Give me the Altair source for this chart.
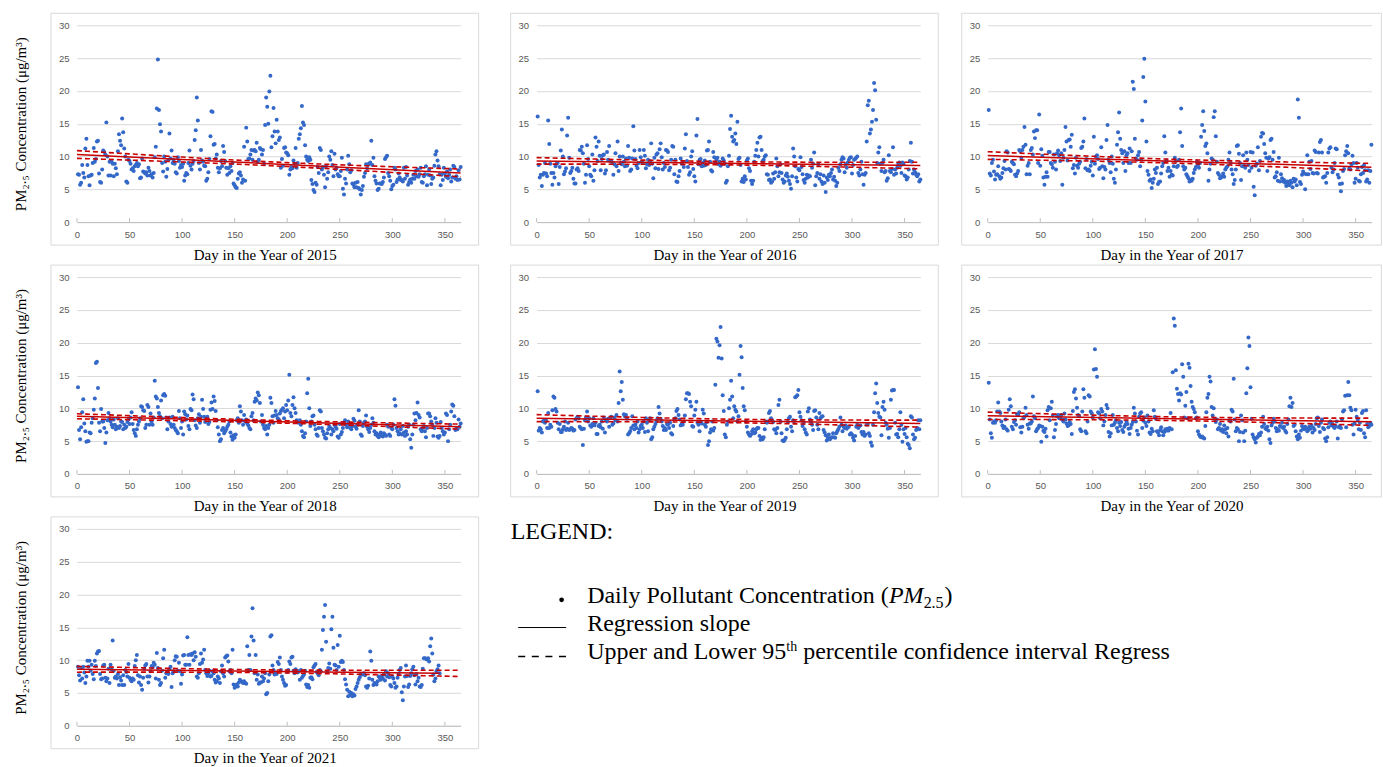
import altair as alt
import numpy as np
import pandas as pd

# ---------------- data ----------------
YEARS = [2015, 2016, 2017, 2018, 2019, 2020, 2021]

pm_2015 = [
7.3, 7.2, 5.7, 6.0, 8.7, 7.5, 6.8, 11.2, 12.7, 8.7,
7.0, 5.6, 7.1, 7.2, 9.0, 11.3, 9.2, 9.6, 12.3, 12.4,
7.4, 6.1, 6.0, 8.0, 10.9, 10.7, 10.3, 15.2, 10.0, 7.1,
9.2, 7.1, 9.2, 8.9, 7.0, 8.9, 8.2, 7.3, 10.8, 13.4,
12.4, 11.7, 15.8, 13.7, 11.2, 10.0, 6.2, 6.0, 9.5, 9.3,
8.9, 8.0, 8.2, 7.8, 8.5, 8.7, 9.0, 8.5, 8.8, 6.7,
6.8, 9.7, 7.7, 7.6, 7.4, 7.6, 7.1, 8.3, 7.8, 7.1,
7.3, 6.8, 7.5, 9.9, 11.5, 17.3, 24.8, 17.1, 14.9, 13.8,
9.0, 7.7, 10.0, 9.2, 6.9, 8.1, 9.5, 13.5, 9.7, 10.9,
9.0, 9.5, 8.9, 7.6, 7.4, 9.9, 9.3, 8.3, 8.7, 8.4,
8.9, 6.3, 7.1, 7.5, 7.3, 9.0, 10.9, 8.6, 8.0, 8.9,
9.3, 12.5, 14.0, 19.0, 15.5, 9.0, 8.0, 11.0, 9.4, 9.2,
8.6, 8.5, 6.3, 6.6, 7.6, 9.6, 13.1, 16.9, 16.8, 11.8,
11.9, 9.7, 10.3, 8.3, 7.6, 8.2, 9.3, 8.5, 11.6, 10.7,
9.3, 8.3, 7.2, 8.2, 7.5, 8.5, 7.8, 9.0, 5.9, 5.6,
5.3, 5.2, 6.6, 7.4, 7.6, 7.1, 6.0, 6.5, 11.5, 6.3,
14.4, 12.3, 9.6, 9.7, 10.3, 11.0, 9.5, 10.9, 11.0, 10.8,
12.1, 9.2, 9.5, 11.3, 11.1, 10.3, 11.0, 8.9, 14.8, 19.0,
17.6, 15.0, 19.9, 22.3, 11.4, 13.1, 17.4, 13.8, 12.0, 15.6,
13.8, 12.5, 12.9, 8.3, 9.6, 8.6, 11.3, 11.4, 10.6, 10.5,
10.2, 7.2, 8.0, 8.4, 8.2, 9.4, 8.9, 11.3, 8.3, 9.0,
12.7, 13.4, 14.3, 17.7, 15.2, 14.8, 11.7, 10.0, 9.5, 9.3,
9.9, 9.5, 6.4, 5.8, 4.9, 4.6, 6.0, 5.7, 8.4, 7.5,
11.3, 11.0, 8.0, 8.4, 7.2, 5.3, 8.5, 6.6, 7.6, 10.0,
9.5, 10.8, 8.7, 7.0, 10.4, 8.0, 8.3, 7.3, 7.0, 7.0,
7.8, 9.8, 5.1, 4.2, 6.6, 5.9, 8.0, 10.1, 8.8, 7.6,
7.9, 5.9, 5.7, 5.3, 6.0, 5.3, 6.1, 5.2, 5.0, 4.2,
4.9, 5.5, 6.9, 7.5, 8.8, 8.2, 8.8, 8.9, 9.1, 12.4,
8.7, 9.8, 7.0, 6.3, 5.9, 4.9, 5.1, 5.9, 5.9, 5.8,
6.1, 6.8, 9.6, 9.9, 10.1, 7.5, 7.0, 6.3, 5.0, 5.5,
5.7, 8.3, 8.0, 6.1, 6.5, 7.4, 6.8, 6.4, 6.4, 6.2,
8.3, 6.6, 8.4, 7.1, 5.7, 6.1, 6.5, 6.0, 6.6, 7.2,
6.6, 7.8, 7.0, 8.0, 6.9, 7.3, 8.3, 6.1, 6.0, 7.0,
7.3, 8.5, 5.6, 7.2, 8.0, 7.1, 5.8, 6.6, 6.8, 8.6,
10.3, 10.8, 9.4, 8.5, 7.3, 5.6, 7.2, 6.4, 8.3, 7.4,
6.9, 7.7, 6.7, 7.2, 8.0, 6.2, 6.8, 8.6, 8.4, 6.6,
7.0, 6.4, 7.9, 6.5, 8.4]

pm_2016 = [
16.1, 8.7, 6.8, 7.2, 5.5, 7.2, 7.5, 9.0, 7.4, 7.0,
15.5, 11.9, 8.9, 7.5, 5.7, 7.5, 6.8, 8.5, 8.9, 9.0,
5.8, 8.4, 10.9, 14.1, 10.0, 7.3, 7.7, 8.2, 13.2, 15.9,
9.8, 7.5, 7.8, 8.3, 6.6, 5.9, 5.9, 8.0, 8.2, 7.8,
11.0, 10.9, 11.5, 10.5, 8.9, 6.0, 7.2, 11.7, 9.6, 8.5,
7.2, 7.0, 10.3, 6.3, 7.9, 12.9, 11.5, 9.3, 12.3, 10.1,
7.9, 9.6, 10.2, 10.3, 7.4, 7.9, 10.7, 9.5, 11.6, 9.3,
9.3, 9.0, 7.2, 8.8, 10.5, 8.5, 12.3, 7.8, 10.0, 9.0,
8.8, 10.0, 9.2, 8.5, 9.7, 8.6, 11.6, 9.8, 7.8, 8.0,
9.7, 14.6, 10.9, 9.6, 8.6, 8.2, 9.0, 11.0, 9.9, 9.2,
9.0, 11.0, 10.1, 8.2, 8.8, 9.5, 8.7, 9.3, 12.0, 8.9,
6.7, 9.8, 8.2, 10.3, 10.5, 8.1, 11.1, 12.0, 9.9, 8.0,
9.0, 8.4, 11.0, 10.9, 10.7, 7.9, 8.3, 9.5, 11.6, 11.5,
7.3, 9.5, 6.2, 6.1, 7.0, 7.8, 9.7, 8.9, 9.2, 8.4,
11.2, 13.4, 9.3, 8.4, 7.2, 7.6, 10.0, 10.8, 8.1, 7.0,
6.2, 13.2, 15.7, 8.8, 9.5, 9.6, 8.5, 9.0, 8.6, 9.4,
8.7, 10.9, 11.0, 12.3, 9.2, 7.9, 7.7, 10.7, 9.9, 9.1,
9.5, 9.8, 8.8, 9.2, 8.6, 8.8, 9.7, 9.4, 8.9, 6.0,
6.3, 8.5, 10.1, 14.2, 16.2, 13.0, 12.3, 12.5, 13.5, 11.9,
15.3, 9.6, 9.8, 8.7, 6.2, 6.6, 6.1, 7.0, 6.5, 9.4,
9.7, 8.2, 7.8, 6.3, 5.8, 6.3, 9.2, 10.1, 11.0, 12.1,
10.0, 12.9, 13.0, 11.0, 9.3, 9.5, 10.0, 10.2, 7.3, 7.2,
6.4, 6.5, 6.0, 6.2, 7.4, 6.6, 7.6, 9.7, 8.5, 7.0,
7.6, 8.8, 7.5, 6.5, 6.0, 6.2, 7.1, 7.4, 6.9, 6.3,
5.8, 5.1, 7.0, 11.2, 10.0, 8.5, 6.8, 6.2, 8.1, 7.9,
9.9, 8.4, 7.3, 6.4, 6.0, 6.6, 7.2, 6.8, 7.1, 7.0,
9.5, 8.3, 8.9, 10.6, 5.6, 7.0, 7.5, 8.8, 6.6, 7.3,
6.2, 5.8, 7.1, 6.0, 4.6, 6.8, 6.4, 7.2, 7.0, 7.5,
8.0, 6.5, 6.9, 6.3, 5.5, 6.0, 8.3, 7.8, 8.8, 9.5,
9.9, 9.7, 7.6, 8.8, 8.3, 9.1, 9.5, 9.8, 9.9, 7.4,
8.7, 9.5, 9.6, 9.8, 10.0, 7.5, 7.1, 8.0, 9.2, 7.3,
5.7, 7.2, 7.5, 12.3, 17.8, 18.5, 13.5, 14.1, 15.3, 17.1,
21.2, 20.1, 15.6, 9.0, 10.6, 11.4, 8.9, 7.8, 9.0, 9.5,
7.6, 7.8, 6.3, 6.7, 10.2, 7.8, 7.6, 8.1, 11.4, 7.2,
8.0, 7.4, 8.3, 8.9, 9.1, 8.6, 7.5, 9.1, 8.8, 7.1,
7.0, 6.5, 6.8, 8.0, 9.3, 12.1, 9.2, 7.4, 8.0, 7.6,
7.2, 7.0, 7.3, 6.2, 6.5]

pm_2017 = [
17.1, 7.4, 7.1, 9.0, 9.5, 7.7, 6.5, 7.2, 7.3, 8.5,
7.0, 6.6, 6.8, 7.5, 8.2, 9.3, 8.0, 10.8, 10.6, 8.1,
8.0, 7.8, 9.2, 9.0, 8.8, 7.2, 7.0, 7.4, 7.8, 11.0,
10.8, 9.8, 11.0, 11.5, 14.5, 11.8, 7.3, 8.6, 9.0, 7.3,
11.0, 11.3, 10.3, 13.8, 12.8, 14.0, 14.0, 9.0, 16.4, 8.6,
11.1, 10.1, 6.8, 5.7, 6.9, 7.6, 6.9, 10.7, 10.7, 9.0,
8.8, 8.3, 10.3, 9.2, 8.0, 10.5, 10.9, 10.2, 9.3, 10.5,
5.7, 9.8, 11.0, 14.5, 12.3, 9.4, 12.5, 12.6, 11.5, 13.3,
8.2, 8.7, 7.4, 9.8, 8.6, 8.3, 8.9, 9.2, 11.3, 11.5,
12.3, 15.8, 8.2, 9.6, 7.9, 8.0, 7.8, 8.6, 9.2, 7.1,
13.0, 8.9, 10.0, 10.2, 9.6, 8.1, 8.3, 11.4, 8.5, 6.7,
8.4, 8.0, 12.5, 14.8, 9.5, 9.0, 7.6, 10.0, 8.9, 6.6,
6.0, 8.0, 11.8, 13.7, 16.7, 12.7, 11.0, 10.5, 9.0, 10.8,
7.8, 10.2, 10.5, 9.0, 11.2, 9.0, 10.8, 21.4, 20.3, 12.7,
9.7, 9.5, 10.2, 10.7, 8.5, 9.5, 15.5, 22.1, 24.9, 18.4,
12.3, 7.8, 7.2, 6.3, 6.5, 5.2, 6.0, 6.6, 8.0, 7.5,
8.3, 5.8, 6.1, 6.2, 7.4, 8.5, 9.0, 13.1, 10.6, 9.4,
7.8, 8.3, 6.9, 7.8, 7.2, 7.1, 8.5, 9.8, 9.3, 8.4,
8.6, 9.5, 13.7, 17.3, 11.6, 8.5, 8.0, 8.3, 7.3, 7.0,
6.7, 6.2, 6.4, 6.3, 6.6, 7.5, 8.0, 8.4, 9.2, 8.7,
8.3, 9.0, 13.0, 14.8, 16.9, 13.9, 11.6, 12.0, 10.5, 6.3,
8.0, 8.9, 9.7, 9.5, 16.0, 16.9, 13.1, 9.2, 7.5, 7.2,
6.7, 6.8, 7.0, 7.4, 6.9, 8.0, 8.3, 8.5, 9.5, 10.6,
9.0, 8.0, 7.3, 5.8, 6.4, 8.0, 11.6, 11.7, 10.4, 9.0,
6.4, 8.5, 10.2, 8.6, 8.3, 10.6, 9.5, 8.7, 7.8, 10.7,
8.3, 10.6, 5.4, 4.1, 8.6, 8.9, 11.4, 7.9, 9.3, 13.0,
13.6, 13.5, 11.9, 10.5, 9.8, 7.8, 9.7, 9.9, 12.5, 12.7,
9.5, 10.7, 6.8, 7.0, 7.6, 6.3, 9.8, 6.2, 7.3, 6.7,
6.2, 6.4, 6.0, 5.5, 6.2, 5.9, 5.6, 6.3, 6.0, 5.3,
6.6, 6.2, 6.5, 5.6, 18.7, 15.9, 6.1, 5.8, 7.2, 7.7,
7.4, 5.0, 7.3, 10.2, 7.3, 9.2, 8.1, 9.3, 7.5, 7.4,
10.9, 10.7, 7.5, 7.4, 10.6, 12.2, 12.5, 10.6, 6.8, 6.9,
7.0, 6.0, 7.5, 10.6, 11.2, 11.4, 8.3, 7.6, 8.0, 9.0,
11.2, 11.1, 7.2, 6.8, 5.8, 4.7, 5.9, 7.8, 8.1, 10.2,
10.8, 11.6, 10.5, 8.2, 8.0, 8.8, 10.1, 9.0, 6.0, 6.6,
9.0, 8.3, 6.3, 6.2, 7.3, 8.4, 7.5, 8.7, 7.9, 6.2,
6.5, 7.9, 6.0, 7.8, 11.8]

pm_2018 = [
13.2, 6.7, 5.3, 7.1, 9.4, 11.4, 7.7, 6.5, 4.9, 5.0,
5.0, 6.3, 6.2, 7.8, 8.5, 9.8, 11.5, 16.9, 17.1, 13.1,
7.8, 6.5, 9.9, 8.0, 8.0, 7.0, 4.7, 6.3, 8.2, 9.3,
8.5, 8.0, 7.5, 7.1, 8.3, 7.5, 6.8, 7.2, 8.5, 7.0,
7.3, 8.0, 7.9, 6.8, 7.5, 7.0, 7.2, 7.9, 8.3, 7.6,
8.6, 9.4, 7.6, 6.7, 6.2, 5.8, 6.8, 7.5, 8.0, 8.5,
10.3, 10.2, 9.7, 9.6, 7.0, 7.5, 10.5, 10.2, 7.5, 9.2,
8.0, 7.5, 8.6, 14.2, 11.8, 11.5, 10.2, 9.3, 8.8, 11.2,
8.5, 12.0, 12.2, 11.9, 8.6, 6.8, 8.0, 8.6, 7.6, 7.2,
8.7, 7.5, 7.0, 6.7, 6.5, 6.2, 9.6, 8.5, 7.0, 8.0,
6.0, 9.5, 9.1, 8.3, 8.9, 7.3, 6.8, 9.9, 9.7, 12.1,
11.4, 8.2, 7.4, 7.0, 8.5, 9.1, 7.8, 8.7, 11.3, 9.9,
8.7, 7.9, 8.5, 8.7, 7.6, 7.9, 9.8, 10.9, 9.9, 11.8,
11.1, 9.6, 8.2, 7.1, 6.0, 5.0, 5.3, 6.7, 7.0, 6.2,
6.5, 6.8, 7.2, 7.5, 8.0, 6.3, 5.7, 5.2, 5.9, 5.5,
6.0, 8.2, 8.5, 7.8, 10.3, 9.5, 8.2, 7.5, 9.0, 8.0,
8.3, 7.7, 7.4, 7.0, 6.8, 8.8, 9.3, 8.2, 11.0, 11.5,
11.2, 12.4, 12.0, 10.8, 8.0, 9.0, 7.5, 7.0, 6.8, 7.3,
6.0, 7.0, 7.5, 11.6, 10.8, 8.8, 7.8, 8.9, 9.6, 9.0,
8.5, 8.3, 9.2, 9.6, 9.8, 10.0, 8.5, 9.5, 10.5, 9.7,
11.2, 15.1, 9.3, 8.8, 10.5, 11.7, 10.0, 9.3, 8.2, 8.0,
7.8, 8.2, 7.5, 6.5, 5.8, 5.6, 6.2, 8.0, 12.3, 14.5,
10.0, 7.3, 8.0, 8.8, 8.9, 7.5, 6.8, 6.0, 5.8, 7.0,
9.7, 9.5, 7.0, 6.5, 6.0, 5.5, 5.4, 6.2, 6.8, 7.3,
7.0, 6.0, 6.8, 6.5, 7.5, 7.2, 6.9, 5.7, 5.5, 7.6,
6.0, 6.4, 7.0, 7.8, 8.2, 7.5, 7.1, 8.0, 7.5, 7.0,
6.8, 7.3, 8.4, 8.1, 7.2, 6.9, 7.5, 9.7, 8.0, 6.0,
5.8, 7.3, 7.8, 8.0, 8.9, 7.2, 6.8, 6.4, 7.0, 7.5,
8.5, 7.8, 6.5, 6.0, 6.2, 5.8, 5.6, 6.0, 6.3, 5.8,
5.7, 6.2, 6.0, 5.8, 7.5, 7.2, 6.0, 5.8, 7.0, 6.8,
7.5, 11.4, 10.4, 7.0, 6.5, 6.0, 6.2, 6.8, 6.0, 7.3,
6.3, 5.8, 6.5, 6.0, 7.2, 7.5, 5.3, 4.0, 6.0, 7.5,
9.2, 8.2, 9.3, 10.9, 9.0, 8.6, 6.8, 6.5, 7.0, 7.3,
6.5, 5.6, 7.0, 9.2, 9.2, 8.8, 8.0, 7.5, 5.8, 7.0,
8.5, 7.8, 5.7, 5.5, 5.8, 7.9, 7.0, 6.5, 6.0, 6.3,
9.2, 9.0, 5.0, 6.8, 7.5, 9.5, 10.6, 10.4, 8.8, 6.7,
7.0, 6.8, 8.3, 7.2, 7.7]

pm_2019 = [
12.6, 6.6, 7.0, 6.8, 6.3, 8.0, 8.2, 7.8, 8.1, 7.0,
9.3, 7.0, 7.5, 7.2, 9.7, 11.8, 11.6, 9.9, 9.5, 7.8,
6.8, 7.6, 6.4, 6.4, 6.8, 7.2, 8.0, 6.7, 6.9, 7.8,
6.7, 6.8, 7.0, 6.9, 6.6, 6.7, 8.3, 8.5, 8.7, 8.5,
7.2, 7.0, 6.8, 4.4, 6.9, 8.2, 8.6, 9.5, 8.0, 8.5,
7.4, 7.2, 7.6, 8.5, 7.4, 7.8, 6.1, 6.1, 7.3, 7.5,
7.1, 8.0, 6.9, 8.6, 6.3, 8.2, 8.0, 8.4, 7.2, 8.5,
8.7, 7.5, 7.7, 8.6, 8.2, 9.0, 8.0, 10.8, 15.6, 12.6,
14.0, 11.3, 9.1, 8.8, 9.0, 8.4, 6.0, 6.2, 6.5, 7.0,
8.8, 7.4, 6.8, 7.5, 7.0, 8.0, 6.3, 6.8, 7.3, 7.5,
7.0, 8.0, 6.4, 8.5, 7.8, 6.5, 8.2, 8.5, 5.3, 5.6,
6.8, 7.2, 7.6, 8.0, 8.5, 10.2, 9.2, 8.4, 8.0, 7.3,
6.7, 7.0, 6.7, 7.6, 7.5, 7.0, 7.8, 6.2, 6.0, 7.3,
8.3, 8.5, 9.6, 9.9, 9.0, 8.3, 7.4, 7.6, 7.5, 8.0,
8.9, 11.4, 12.3, 12.3, 12.2, 11.0, 10.3, 7.3, 7.2, 8.9,
9.8, 11.0, 7.8, 7.5, 6.5, 8.0, 7.7, 9.8, 9.2, 7.5,
7.2, 7.9, 4.4, 5.0, 6.3, 6.8, 8.0, 6.6, 7.0, 13.6,
20.6, 20.2, 17.7, 19.6, 22.4, 17.6, 12.0, 9.6, 6.0, 5.6,
7.5, 8.0, 10.0, 11.3, 14.2, 11.8, 8.5, 10.3, 9.8, 9.5,
8.0, 8.8, 15.1, 19.5, 17.8, 13.1, 10.3, 9.7, 8.0, 7.2,
6.3, 6.0, 5.8, 6.0, 6.5, 6.8, 6.2, 6.3, 6.8, 7.0,
7.0, 5.8, 5.2, 5.5, 5.3, 5.6, 6.8, 8.0, 7.8, 8.0,
9.3, 9.6, 8.5, 8.2, 7.9, 6.8, 6.7, 6.2, 7.0, 10.5,
11.3, 8.0, 6.2, 5.1, 5.0, 5.2, 5.5, 6.8, 7.9, 8.5,
8.7, 7.2, 6.5, 8.2, 8.0, 11.7, 11.8, 12.0, 12.8, 9.4,
8.7, 8.2, 7.3, 7.8, 6.8, 6.3, 6.0, 9.5, 10.0, 8.3,
7.9, 7.5, 6.7, 9.6, 9.7, 8.6, 7.5, 6.8, 9.3, 8.5,
8.7, 8.8, 6.7, 6.3, 5.9, 5.1, 5.5, 6.0, 5.3, 5.5,
5.6, 6.2, 5.6, 5.5, 6.2, 6.5, 6.8, 7.2, 8.6, 7.5,
6.5, 7.2, 7.0, 7.4, 6.9, 7.1, 7.2, 6.0, 6.2, 6.0,
5.5, 5.1, 5.8, 7.2, 7.5, 7.0, 7.3, 7.4, 6.4, 6.0,
6.4, 5.8, 6.0, 7.5, 7.6, 6.2, 5.8, 4.8, 4.3, 7.5,
9.4, 12.3, 13.8, 10.8, 9.3, 8.7, 8.6, 5.9, 10.2, 11.0,
9.8, 7.8, 7.5, 6.9, 5.5, 7.0, 11.3, 12.7, 12.8, 12.8,
7.8, 6.0, 6.1, 5.6, 6.8, 9.4, 7.5, 4.9, 6.8, 6.1,
7.0, 5.6, 4.6, 4.4, 3.9, 8.8, 8.6, 6.0, 5.3, 5.5,
6.7, 7.0, 8.2, 6.8, 8.2]

pm_2020 = [
13.9, 8.3, 6.2, 5.5, 7.8, 8.0, 7.8, 8.2, 9.5, 10.9,
9.5, 9.3, 8.0, 7.4, 7.0, 7.2, 8.3, 6.8, 6.6, 9.8,
11.4, 10.3, 7.2, 6.8, 7.9, 8.2, 7.5, 9.1, 9.0, 9.4,
7.1, 6.3, 7.2, 8.5, 8.7, 10.1, 9.0, 7.5, 6.9, 7.7,
7.7, 8.0, 11.8, 8.8, 8.5, 6.5, 6.8, 7.0, 7.4, 7.3,
4.9, 7.2, 6.6, 6.4, 6.9, 5.7, 9.7, 10.2, 8.2, 10.0,
11.0, 8.9, 5.6, 6.7, 7.6, 8.8, 9.0, 8.5, 8.8, 9.0,
8.3, 8.0, 9.2, 8.3, 7.7, 7.3, 7.4, 7.9, 7.6, 6.1,
9.6, 12.5, 12.9, 11.5, 10.1, 9.0, 8.8, 6.8, 6.5, 9.5,
12.9, 11.6, 6.5, 6.2, 8.0, 12.0, 11.8, 9.5, 9.2, 8.6,
15.9, 19.0, 16.0, 14.8, 9.4, 9.2, 8.5, 9.9, 9.5, 7.4,
8.0, 9.0, 10.5, 10.0, 6.4, 5.7, 6.2, 7.4, 9.0, 7.5,
7.8, 8.2, 7.0, 6.5, 7.8, 7.3, 7.9, 6.7, 6.4, 7.2,
7.5, 8.0, 7.6, 6.9, 6.1, 7.0, 7.5, 7.9, 10.1, 9.2,
8.0, 6.6, 6.0, 8.7, 9.2, 9.4, 7.0, 8.1, 8.6, 7.8,
7.3, 8.9, 8.0, 6.3, 6.1, 6.9, 6.5, 9.7, 8.7, 8.4,
6.5, 6.3, 5.9, 6.7, 7.1, 6.5, 5.9, 6.4, 6.8, 6.6,
6.9, 6.6, 7.0, 9.3, 6.8, 15.5, 23.7, 22.6, 15.8, 13.0,
12.2, 11.2, 12.3, 12.1, 16.7, 14.8, 8.6, 10.4, 12.5, 8.5,
16.8, 16.2, 13.4, 11.0, 10.2, 9.9, 9.4, 8.5, 8.6, 6.5,
6.0, 5.7, 5.6, 5.7, 5.5, 5.4, 7.3, 9.4, 11.6, 12.2,
14.8, 14.1, 10.2, 8.9, 10.0, 8.4, 7.9, 8.3, 6.8, 7.0,
7.6, 6.6, 6.8, 6.4, 7.4, 6.8, 6.2, 7.0, 5.7, 8.2,
8.0, 9.8, 9.5, 14.5, 8.3, 6.5, 7.0, 6.8, 5.0, 6.4,
8.9, 8.2, 6.3, 5.0, 6.6, 12.3, 16.1, 20.8, 19.5, 13.2,
8.4, 6.0, 5.6, 5.3, 4.8, 5.5, 5.7, 6.1, 5.9, 6.3,
7.2, 8.7, 7.6, 7.0, 6.8, 7.2, 6.6, 5.3, 4.7, 7.4,
7.8, 8.4, 8.0, 7.0, 6.5, 6.8, 6.6, 7.3, 7.2, 7.8,
7.0, 7.2, 6.6, 6.3, 7.6, 8.3, 10.3, 11.6, 10.2, 10.8,
7.3, 7.5, 6.5, 5.7, 5.3, 6.0, 5.5, 6.6, 7.3, 7.0,
6.8, 7.2, 7.0, 6.5, 6.7, 7.2, 6.9, 7.4, 6.3, 7.0,
6.7, 7.6, 8.5, 8.6, 7.3, 6.4, 7.8, 8.3, 7.0, 6.8,
5.4, 5.0, 5.6, 7.1, 7.8, 8.0, 7.4, 7.6, 7.2, 7.0,
7.3, 8.0, 5.4, 7.1, 7.3, 7.0, 8.3, 9.5, 9.7, 11.9,
7.1, 12.0, 14.0, 12.0, 10.1, 9.7, 7.5, 6.0, 7.7, 9.8,
8.7, 8.3, 6.8, 7.8, 6.7, 9.3, 9.6, 6.2, 5.6, 9.7,
7.6, 7.1, 7.3, 7.8, 7.5]

pm_2021 = [
9.0, 7.7, 6.9, 8.8, 7.2, 9.0, 8.1, 6.5, 7.5, 9.9,
9.0, 9.9, 8.4, 9.3, 7.9, 7.1, 9.9, 9.1, 11.0, 11.3,
11.4, 7.9, 7.1, 7.2, 9.2, 9.3, 7.3, 6.8, 7.2, 8.7,
6.5, 9.3, 8.6, 13.0, 8.4, 7.3, 7.5, 7.2, 7.9, 6.2,
7.4, 6.9, 6.2, 7.7, 6.2, 8.5, 8.2, 7.5, 9.4, 7.3,
7.0, 6.8, 7.2, 7.0, 9.1, 10.0, 10.8, 7.7, 6.6, 7.5,
6.2, 5.5, 7.3, 8.7, 9.2, 9.4, 7.5, 6.6, 7.5, 8.3,
9.1, 8.9, 9.6, 9.3, 7.2, 11.1, 8.8, 7.0, 6.2, 6.5,
8.4, 10.3, 11.6, 7.3, 8.0, 8.1, 7.9, 8.6, 9.0, 5.9,
8.0, 8.3, 10.0, 10.6, 10.5, 8.4, 9.6, 8.3, 6.4, 7.8,
10.7, 10.8, 9.3, 9.3, 13.5, 10.8, 9.3, 10.9, 10.8, 11.0,
10.0, 11.2, 10.5, 7.5, 7.3, 8.0, 9.4, 11.0, 9.6, 10.1,
11.6, 8.5, 8.0, 7.6, 8.0, 8.4, 7.5, 7.6, 8.3, 8.0,
7.0, 6.6, 6.8, 7.5, 7.2, 6.5, 8.3, 9.2, 8.0, 7.5,
10.4, 10.6, 10.7, 9.8, 8.3, 8.5, 8.0, 11.6, 6.3, 5.8,
6.0, 6.3, 6.0, 6.6, 7.0, 6.8, 6.7, 6.5, 6.8, 6.5,
6.4, 12.1, 8.5, 10.8, 8.5, 13.6, 17.9, 13.0, 8.0, 10.8,
7.0, 7.8, 6.4, 6.6, 6.6, 7.5, 6.8, 7.2, 8.0, 4.8,
5.0, 6.8, 7.8, 13.6, 13.8, 9.2, 8.5, 7.8, 8.1, 7.9,
9.7, 9.4, 10.4, 8.5, 7.5, 7.0, 6.5, 6.1, 6.2, 8.2,
8.5, 9.8, 9.4, 10.4, 10.5, 8.4, 8.0, 8.6, 8.4, 8.1,
8.3, 7.0, 8.5, 7.3, 7.6, 7.8, 8.4, 6.3, 5.9, 6.2,
5.8, 7.3, 7.4, 7.1, 8.9, 9.2, 9.4, 8.2, 8.0, 7.7,
8.5, 8.3, 11.6, 14.6, 16.6, 18.4, 12.8, 8.2, 8.8, 9.5,
8.7, 14.7, 16.6, 11.9, 9.3, 9.2, 8.5, 12.3, 9.0, 13.7,
9.7, 9.9, 9.7, 8.5, 7.1, 6.3, 5.5, 4.5, 5.2, 4.7,
5.0, 4.5, 4.8, 4.6, 5.6, 6.0, 6.5, 7.0, 7.4, 7.8,
7.8, 7.9, 8.0, 7.7, 6.0, 5.8, 6.1, 7.2, 11.3, 9.9,
7.0, 6.2, 6.5, 6.4, 6.3, 6.8, 7.5, 7.3, 7.0, 7.6,
7.2, 7.8, 6.9, 8.3, 7.5, 8.0, 7.4, 6.2, 6.0, 7.5,
7.2, 6.5, 5.8, 6.0, 7.3, 7.8, 8.5, 8.8, 5.1, 3.9,
6.0, 7.5, 9.2, 7.6, 5.9, 6.3, 7.6, 8.0, 8.6, 9.0,
7.7, 6.3, 7.9, 6.8, 7.3, 6.0, 5.9, 6.2, 8.7, 10.3,
10.3, 10.2, 10.1, 10.3, 9.8, 12.1, 13.3, 11.0, 7.8, 6.8,
7.2, 8.3, 8.6, 9.2, 8.0]

SERIES = [pm_2015, pm_2016, pm_2017, pm_2018, pm_2019, pm_2020, pm_2021]

X_TICKS = [0, 50, 100, 150, 200, 250, 300, 350]
Y_TICKS = [0, 5, 10, 15, 20, 25, 30]
X_TITLE = "Day in the Year of {}"
Y_TITLE = "PM\u2082.\u2085 Concentration (\u03bcg/m\u00b3)"
LEGEND_HEAD = "LEGEND:"
LEGEND_POINT = ["Daily Pollutant Concentration (", "PM", "2.5", ")"]
LEGEND_SLOPE = "Regression slope"
LEGEND_CI = ["Upper and Lower 95", "th", "percentile confidence interval Regress"]

# ---------------- styling ----------------
W, H = 384, 197
COL_OFFSET = [0.0, 9.3, 0.0]
BOX_RIGHT = [18, 18, 10]
SERIF = "Liberation Serif"
SANS = "Liberation Sans"
BLUE = "#3468c8"
RED = "#c80000"
GRID = "#d9d9d9"
LABEL = "#595959"

one = pd.DataFrame({"k": [0]})


def regression(values):
    y = np.asarray(values, dtype=float)
    n = len(y)
    x = np.arange(1, n + 1, dtype=float)
    xm = x.mean()
    sxx = ((x - xm) ** 2).sum()
    b1 = ((x - xm) * (y - y.mean())).sum() / sxx
    b0 = y.mean() - b1 * xm
    s = np.sqrt(((y - b0 - b1 * x) ** 2).sum() / (n - 2))
    fx = np.array([0.0, float(n)])
    fit = pd.DataFrame({"day": fx, "pm": b0 + b1 * fx})
    gx = np.linspace(0, 365, 74)
    half = 1.967 * s * np.sqrt(1.0 / n + (gx - xm) ** 2 / sxx)
    ci = pd.concat([
        pd.DataFrame({"day": gx, "pm": b0 + b1 * gx + half, "band": "upper"}),
        pd.DataFrame({"day": gx, "pm": b0 + b1 * gx - half, "band": "lower"}),
    ])
    return fit, ci


def panel(i):
    col = i % 3
    off = COL_OFFSET[col]
    year = YEARS[i]
    values = SERIES[i]
    pts = pd.DataFrame({"day": np.arange(1, len(values) + 1), "pm": values})
    fit, ci = regression(values)
    ticks = pd.DataFrame({"day": X_TICKS, "pm": [0] * len(X_TICKS)})

    xs = alt.Scale(domain=[0, 365], range=[off, off + W], nice=False, zero=False)
    ys = alt.Scale(domain=[0, 30], nice=False)
    box_l = off - 26
    box_r = off + W + BOX_RIGHT[col]

    x_axis = alt.Axis(
        values=X_TICKS, grid=False, ticks=False, domainColor="#bfbfbf", domainWidth=1,
        labelFont=SANS, labelFontSize=9.5, labelColor=LABEL, labelPadding=7,
        labelFlush=False, title=X_TITLE.format(year), titleFont=SERIF,
        titleFontSize=15, titleFontWeight="normal", titleColor="#000000",
        titleX=(box_l + box_r) / 2, titleY=37, titleAlign="center",
        titleBaseline="alphabetic")
    y_kw = dict(values=Y_TICKS, grid=True, gridColor=GRID, gridWidth=1, domain=False,
                ticks=False, labelFont=SANS, labelFontSize=9.5, labelColor=LABEL,
                labelPadding=8, labelFlush=False)
    if off:
        y_kw["offset"] = -off
    if col == 0:
        y_kw.update(title=Y_TITLE, titleFont=SERIF, titleFontSize=15,
                    titleFontWeight="normal", titleColor="#000000", titleX=-51,
                    titleY=H / 2, titleAngle=270, titleAlign="center",
                    titleBaseline="alphabetic")
    else:
        y_kw["title"] = None
    y_axis = alt.Axis(**y_kw)

    X = alt.X("day:Q", scale=xs, axis=x_axis)
    Y = alt.Y("pm:Q", scale=ys, axis=y_axis)

    layers = []
    layers.append(alt.Chart(one).mark_rect(fill="white", fillOpacity=0, stroke=GRID,
                                           strokeWidth=1).encode(
        x=alt.value(box_l), x2=alt.value(box_r), y=alt.value(-12), y2=alt.value(H + 23)))
    if i == 0:
        layers.append(alt.Chart(one).mark_rect(fill="white").encode(
            x=alt.value(-75.7), x2=alt.value(-74.7), y=alt.value(-24.3), y2=alt.value(-23.3)))
    layers.append(alt.Chart(pts).mark_circle(size=16, color=BLUE, opacity=1).encode(
        x=X, y=Y))
    layers.append(alt.Chart(ticks).mark_rule(color="#bfbfbf", strokeWidth=1).encode(
        x=X, y=alt.value(H - 4), y2=alt.value(H)))
    layers.append(alt.Chart(ci).mark_line(color=RED, strokeWidth=1.6,
                                          strokeDash=[5, 3]).encode(
        x=X, y=Y, detail="band:N"))
    layers.append(alt.Chart(fit).mark_line(color=RED, strokeWidth=1.5).encode(
        x=X, y=Y))
    return alt.layer(*layers).properties(width=W + off, height=H)


def legend_chart():
    base = alt.Chart(one)

    def txt(s, x, y, size=24, italic=False):
        kw = dict(align="left", baseline="alphabetic", font=SERIF, fontSize=size,
                  color="#000000")
        if italic:
            kw["fontStyle"] = "italic"
        return base.mark_text(**kw).encode(x=alt.value(x), y=alt.value(y),
                                           text=alt.value(s))

    layers = [
        txt(LEGEND_HEAD, -16.7, 10.4),
        base.mark_circle(size=22, color="#000000", opacity=1).encode(
            x=alt.value(34.3), y=alt.value(71.0)),
        txt(LEGEND_POINT[0], 59.9, 74.4),
        txt(LEGEND_POINT[1], 361.9, 74.4, italic=True),
        txt(LEGEND_POINT[2], 396.6, 79.4, size=16),
        txt(LEGEND_POINT[3], 417.6, 74.4),
        base.mark_rule(color="#000000", strokeWidth=1).encode(
            x=alt.value(-9.1), x2=alt.value(38.9), y=alt.value(98.7)),
        txt(LEGEND_SLOPE, 59.9, 102.0),
        base.mark_rule(color="#000000", strokeWidth=1.5, strokeDash=[7, 6.6]).encode(
            x=alt.value(-9.1), x2=alt.value(38.9), y=alt.value(127.7)),
        txt(LEGEND_CI[0], 59.9, 130.4),
        txt(LEGEND_CI[1], 259.2, 122.0, size=14),
        txt(LEGEND_CI[2], 276.1, 130.4),
    ]
    return alt.layer(*layers).properties(width=W + COL_OFFSET[1], height=H)


panels = [panel(i) for i in range(len(YEARS))]
chart = alt.concat(
    *panels, legend_chart(), columns=3,
    spacing={"row": 55, "column": 66.7}, bounds="flush",
).properties(padding=0, background="white").configure_view(stroke="transparent")

chart.save("out.html", embed_options={"renderer": "svg", "actions": False})
